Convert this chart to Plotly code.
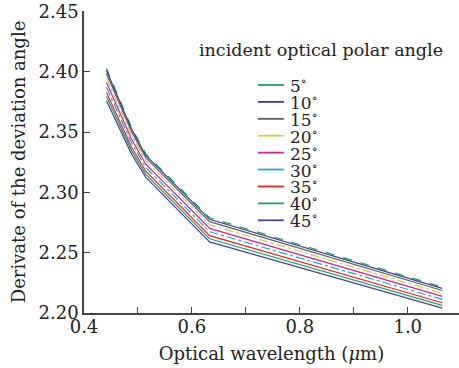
import plotly.graph_objects as go

wavelength = [0.4416, 0.488, 0.5145, 0.6328, 1.064]

angles = ["5", "10", "15", "20", "25", "30", "35", "40", "45"]

d5 = [2.4030, 2.3540, 2.3320, 2.2790, 2.2215]
d10 = [2.4012, 2.3526, 2.3307, 2.2777, 2.2204]
d15 = [2.3987, 2.3505, 2.3289, 2.2758, 2.2187]
d20 = [2.3952, 2.3476, 2.3263, 2.2732, 2.2164]
d25 = [2.3911, 2.3443, 2.3234, 2.2702, 2.2138]
d30 = [2.3873, 2.3412, 2.3207, 2.2674, 2.2113]
d35 = [2.3830, 2.3377, 2.3176, 2.2642, 2.2085]
d40 = [2.3795, 2.3349, 2.3150, 2.2616, 2.2063]
d45 = [2.3760, 2.3320, 2.3125, 2.2590, 2.2040]

series = [d5, d10, d15, d20, d25, d30, d35, d40, d45]

x_ticks = [0.4, 0.5, 0.6, 0.7, 0.8, 0.9, 1.0]
x_tick_text = ["0.4", "", "0.6", "", "0.8", "", "1.0"]
y_ticks = [2.20, 2.25, 2.30, 2.35, 2.40, 2.45]
y_tick_text = ["2.20", "2.25", "2.30", "2.35", "2.40", "2.45"]

colors = ["#20a060", "#3c3c9c", "#55605e", "#d6c640", "#d0209c",
          "#18aad8", "#f02020", "#20a060", "#4444a4"]
dashes = ["dash", "solid", "solid", "dashdot", "solid",
          "dashdot", "solid", "solid", "solid"]

FONT = "DejaVu Serif"
AX = "#444444"

fig = go.Figure()
for ang, ys, c, d in zip(angles, series, colors, dashes):
    fig.add_trace(go.Scatter(x=wavelength, y=ys, mode="lines",
                             name=ang + "°", showlegend=False,
                             line=dict(color=c, width=1.2, dash=d)))

# compact legend (paper coordinates)
shapes = []
annotations = []
top_y = 0.755
step = 0.056
for i, (ang, c) in enumerate(zip(angles, colors)):
    yy = top_y - i * step
    shapes.append(dict(type="line", xref="paper", yref="paper",
                       x0=0.464, x1=0.533, y0=yy, y1=yy,
                       line=dict(color=c, width=1.8)))
    annotations.append(dict(xref="paper", yref="paper", x=0.543, y=yy,
                            xanchor="left", yanchor="middle", showarrow=False,
                            text=ang + "<sup>∘</sup>",
                            font=dict(family=FONT, size=17, color="#222222")))
annotations.append(dict(xref="paper", yref="paper", x=0.30, y=0.872,
                        xanchor="left", yanchor="middle", showarrow=False,
                        text="incident optical polar angle",
                        font=dict(family=FONT, size=17.5, color="#222222")))

fig.update_layout(
    width=459, height=368,
    margin=dict(l=84, r=0, t=11, b=55),
    paper_bgcolor="white", plot_bgcolor="white",
    font=dict(family=FONT, size=18, color="#222222"),
    shapes=shapes, annotations=annotations,
    xaxis=dict(range=[0.4, 1.095], tickmode="array", tickvals=x_ticks,
               ticktext=x_tick_text, ticks="inside", ticklen=6,
               tickcolor=AX, tickwidth=1.3, showline=True, linecolor=AX,
               linewidth=1.5, showgrid=False, zeroline=False,
               ticklabelstandoff=-3,
               title=dict(text="Optical wavelength (<i>μ</i>m)",
                          font=dict(family=FONT, size=18), standoff=11),
               tickfont=dict(family=FONT, size=18)),
    yaxis=dict(range=[2.20, 2.4505], tickmode="array", tickvals=y_ticks,
               ticktext=y_tick_text, ticks="inside", ticklen=6,
               tickcolor=AX, tickwidth=1.3, showline=True, linecolor=AX,
               linewidth=1.5, showgrid=False, zeroline=False,
               title=dict(text="Derivate of the deviation angle",
                          font=dict(family=FONT, size=18), standoff=8),
               tickfont=dict(family=FONT, size=18)),
)

fig.write_html("out.html", config={"displayModeBar": False},
               post_script="document.body.style.margin='0px';")
